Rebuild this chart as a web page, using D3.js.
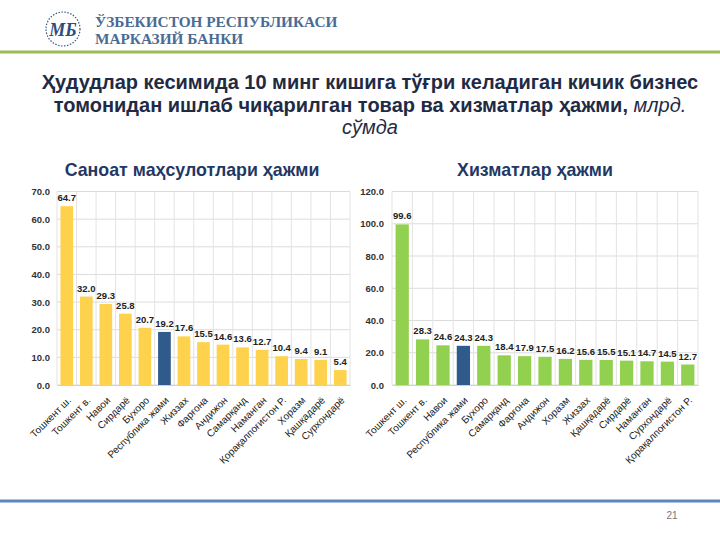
<!DOCTYPE html>
<html><head><meta charset="utf-8">
<script src="https://cdn.jsdelivr.net/npm/d3@7"></script>
<style>body{margin:0;background:#fff}svg{display:block}</style>
</head><body>
<script>
const industryCats = ["Тошкент ш.","Тошкент в.","Навои","Сирдарё","Бухоро","Республика жами","Жиззах","Фарғона","Андижон","Самарқанд","Наманган","Қорақалпоғистон Р.","Хоразм","Қашқадарё","Сурхондарё"];
const industryVals = [64.7,32.0,29.3,25.8,20.7,19.2,17.6,15.5,14.6,13.6,12.7,10.4,9.4,9.1,5.4];
const serviceCats = ["Тошкент ш.","Тошкент в.","Навои","Республика жами","Бухоро","Самарқанд","Фарғона","Андижон","Хоразм","Жиззах","Қашқадарё","Сирдарё","Наманган","Сурхондарё","Қорақалпоғистон Р."];
const serviceVals = [99.6,28.3,24.6,24.3,24.3,18.4,17.9,17.5,16.2,15.6,15.5,15.1,14.7,14.5,12.7];
const industryTicks = [0,10,20,30,40,50,60,70];
const serviceTicks = [0,20,40,60,80,100,120];
const totalLabel = "Республика жами";

const W=720,H=540;
const svg=d3.select("body").append("svg").attr("width",W).attr("height",H);

// header
svg.append("line").attr("x1",0).attr("x2",720).attr("y1",52).attr("y2",52).attr("stroke","#9bbb59").attr("stroke-width",3);
const logo=svg.append("g").attr("transform","translate(63,29)");
logo.append("circle").attr("r",17).attr("fill","none").attr("stroke","#3a5a80").attr("stroke-width",1.2).attr("stroke-dasharray","1.5,1.5");
logo.append("text").attr("text-anchor","middle").attr("y",7).attr("font-family","Liberation Serif").attr("font-style","italic").attr("font-weight","bold").attr("font-size",18).attr("fill","#2f4f78").text("МБ");
svg.append("text").attr("x",95).attr("y",27).attr("font-family","Liberation Serif").attr("font-weight","bold").attr("font-size",15.3).attr("fill","#4a6c94").text("ЎЗБЕКИСТОН РЕСПУБЛИКАСИ");
svg.append("text").attr("x",95).attr("y",43.5).attr("font-family","Liberation Serif").attr("font-weight","bold").attr("font-size",15.3).attr("fill","#4a6c94").text("МАРКАЗИЙ БАНКИ");

// main title
const tt=svg.append("text").attr("text-anchor","middle").attr("font-family","Liberation Sans, Arial").attr("font-weight","bold").attr("font-size",20).attr("fill","#1f2b45");
tt.append("tspan").attr("x",370).attr("y",89).text("Ҳудудлар кесимида 10 минг кишига тўғри келадиган кичик бизнес");
const l2=tt.append("tspan").attr("x",370).attr("y",112);
l2.append("tspan").text("томонидан ишлаб чиқарилган товар ва хизматлар ҳажми, ");
l2.append("tspan").attr("font-style","italic").attr("font-weight","normal").text("млрд.");
tt.append("tspan").attr("x",370).attr("y",134).attr("font-style","italic").attr("font-weight","normal").text("сўмда");

// footer
svg.append("line").attr("x1",0).attr("x2",720).attr("y1",501).attr("y2",501).attr("stroke","#5b87c0").attr("stroke-width",3);
svg.append("text").attr("x",672).attr("y",519).attr("text-anchor","middle").attr("font-family","Liberation Sans").attr("font-size",10).attr("fill","#777").text("21");

function chart(o){
  const g=svg.append("g");
  const x=d3.scaleBand().domain(o.cats).range([o.x0,o.x1]).paddingInner(0.35).paddingOuter(0.175);
  const xb=d3.scaleBand().domain(o.cats).range([o.x0,o.x1]);
  const y=d3.scaleLinear().domain([0,o.max]).range([385,191.5]);
  g.append("text").attr("x",o.tx).attr("y",176).attr("text-anchor","middle").attr("font-family","Liberation Sans, Arial").attr("font-weight","bold").attr("font-size",17.8).attr("fill","#1f3864").text(o.title);
  // grid
  g.append("g").selectAll("line").data(o.ticks).join("line")
    .attr("x1",o.x0).attr("x2",o.x1).attr("y1",d=>y(d)).attr("y2",d=>y(d)).attr("stroke","#dcdcdc").attr("stroke-width",1);
  const vb=o.cats.map(c=>xb(c)+xb.bandwidth()).concat([o.x0]);
  g.append("g").selectAll("line").data(vb).join("line")
    .attr("x1",d=>d).attr("x2",d=>d).attr("y1",y(o.max)).attr("y2",y(0)).attr("stroke","#e3e3e3").attr("stroke-width",1);
  // y axis
  const ya=d3.axisLeft(y).tickValues(o.ticks).tickFormat(d3.format(".1f")).tickSize(0).tickPadding(o.pad);
  const ag=g.append("g").attr("transform",`translate(${o.x0},0)`).call(ya);
  ag.select(".domain").remove();
  ag.selectAll("text").attr("font-family","Liberation Sans, Arial").attr("font-weight","bold").attr("font-size",9.5).attr("fill","#333");
  // bars
  g.append("g").selectAll("rect").data(o.cats).join("rect")
    .attr("x",c=>x(c)).attr("width",x.bandwidth())
    .attr("y",(c,i)=>y(o.vals[i])).attr("height",(c,i)=>y(0)-y(o.vals[i]))
    .attr("fill",c=>c===totalLabel?"#2e5a8c":o.color);
  g.append("g").selectAll("text").data(o.cats).join("text")
    .attr("x",c=>x(c)+x.bandwidth()/2).attr("y",(c,i)=>y(o.vals[i])-5)
    .attr("text-anchor","middle").attr("font-family","Liberation Sans, Arial").attr("font-weight","bold").attr("font-size",9.5).attr("fill","#222")
    .text((c,i)=>o.vals[i].toFixed(1));
  // x axis
  const xa=d3.axisBottom(xb).tickSize(0).tickPadding(0);
  const xg=g.append("g").attr("transform","translate(0,385)").call(xa);
  xg.select(".domain").attr("stroke","#d0d0d0");
  xg.selectAll("text").attr("font-family","Liberation Sans, Arial").attr("font-size",10).attr("fill","#222")
    .attr("text-anchor","end").attr("y",0).attr("dy",0).attr("transform","translate(5,16) rotate(-45)");
}

chart({cats:industryCats,vals:industryVals,ticks:industryTicks,max:70,x0:57,x1:350,tx:192,title:"Саноат маҳсулотлари ҳажми",color:"#ffd24d",pad:7});
chart({cats:serviceCats,vals:serviceVals,ticks:serviceTicks,max:120,x0:392,x1:698,tx:535,title:"Хизматлар ҳажми",color:"#92d050",pad:8});
</script>
</body></html>
